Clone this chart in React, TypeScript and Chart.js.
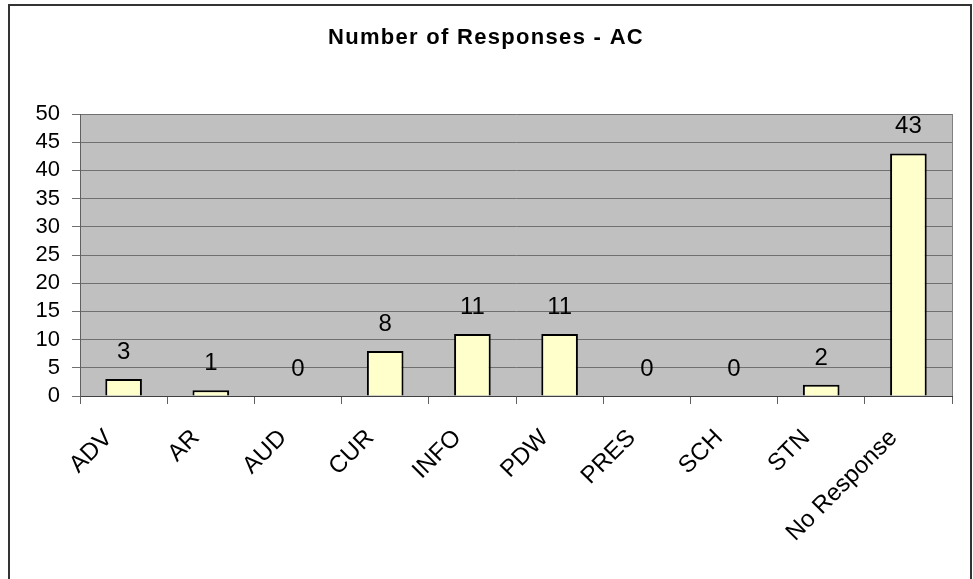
import React, { useEffect, useRef } from "react";
import { Chart, registerables } from "chart.js";

Chart.register(...registerables);

const categories = ["ADV", "AR", "AUD", "CUR", "INFO", "PDW", "PRES", "SCH", "STN", "No Response"];
const responses = [3, 1, 0, 8, 11, 11, 0, 0, 2, 43];
const titleText = "Number of Responses - AC";
const yMin = 0;
const yMax = 50;
const yStep = 5;

const FONT = "'Liberation Sans', Arial, Helvetica, sans-serif";

export default function App() {
  const ref = useRef<HTMLCanvasElement | null>(null);

  useEffect(() => {
    if (!ref.current) return;

    const bgPlugin = {
      id: "plotBg",
      beforeDraw(chart: any) {
        const { ctx, chartArea } = chart;
        ctx.save();
        ctx.fillStyle = "#ffffff";
        ctx.fillRect(0, 0, chart.width, chart.height);
        ctx.fillStyle = "#C0C0C0";
        ctx.fillRect(chartArea.left, chartArea.top, chartArea.right - chartArea.left, chartArea.bottom - chartArea.top);
        ctx.restore();
      },
      afterDraw(chart: any) {
        const { ctx, chartArea } = chart;
        ctx.save();
        // plot area right border
        ctx.strokeStyle = "#808080";
        ctx.lineWidth = 1;
        ctx.beginPath();
        ctx.moveTo(Math.round(chartArea.right) + 0.5, chartArea.top);
        ctx.lineTo(Math.round(chartArea.right) + 0.5, chartArea.bottom);
        ctx.stroke();
        // outer frame
        ctx.strokeStyle = "#333333";
        ctx.lineWidth = 2;
        ctx.strokeRect(9, 5, 962, 620);
        // title
        ctx.fillStyle = "#000000";
        ctx.font = `bold 22px ${FONT}`;
        ctx.textAlign = "center";
        ctx.textBaseline = "alphabetic";
        try {
          (ctx as any).letterSpacing = "1.3px";
        } catch (e) {}
        ctx.fillText(titleText, 486, 44);
        ctx.restore();
      },
    };

    const labelPlugin = {
      id: "barLabels",
      afterDatasetsDraw(chart: any) {
        const { ctx } = chart;
        const meta = chart.getDatasetMeta(0);
        ctx.save();
        ctx.fillStyle = "#000000";
        ctx.font = `24px ${FONT}`;
        ctx.textAlign = "center";
        ctx.textBaseline = "alphabetic";
        meta.data.forEach((bar: any, i: number) => {
          ctx.fillText(String(responses[i]), bar.x, bar.y - 20);
        });
        ctx.restore();
      },
    };

    const chart = new Chart(ref.current, {
      type: "bar",
      data: {
        labels: categories,
        datasets: [
          {
            data: responses,
            backgroundColor: "#FFFFCC",
            borderColor: "#000000",
            borderWidth: 2,
            barPercentage: 0.42,
            categoryPercentage: 1,
          },
        ],
      },
      options: {
        responsive: false,
        animation: false,
        devicePixelRatio: 1,
        layout: { padding: { left: 0, right: 21, top: 114, bottom: 0 } },
        plugins: {
          legend: { display: false },
          tooltip: { enabled: false },
          title: { display: false },
        },
        scales: {
          x: {
            grid: {
              offset: true,
              drawOnChartArea: false,
              color: "#606060",
              tickLength: 8,
              lineWidth: 1,
            },
            border: { color: "#404040", width: 1 },
            ticks: {
              color: "#000000",
              font: { family: FONT, size: 24 },
              minRotation: 45,
              maxRotation: 45,
              autoSkip: false,
              padding: 20,
              labelOffset: -15,
            },
            afterFit(scale: any) {
              scale.height = 183;
            },
          },
          y: {
            min: yMin,
            max: yMax,
            grid: {
              color: "#707070",
              tickLength: 8,
              lineWidth: 1,
            },
            border: { color: "#606060", width: 1 },
            ticks: {
              stepSize: yStep,
              autoSkip: false,
              color: "#000000",
              font: { family: FONT, size: 22 },
              padding: 12,
            },
            afterFit(scale: any) {
              scale.width = 80;
            },
          },
        },
      },
      plugins: [bgPlugin, labelPlugin],
    });

    return () => chart.destroy();
  }, []);

  return (
    <div style={{ position: "absolute", left: 0, top: 0, width: 973, height: 579, background: "#fff" }}>
      <canvas ref={ref} width={973} height={579} style={{ display: "block" }} />
    </div>
  );
}
